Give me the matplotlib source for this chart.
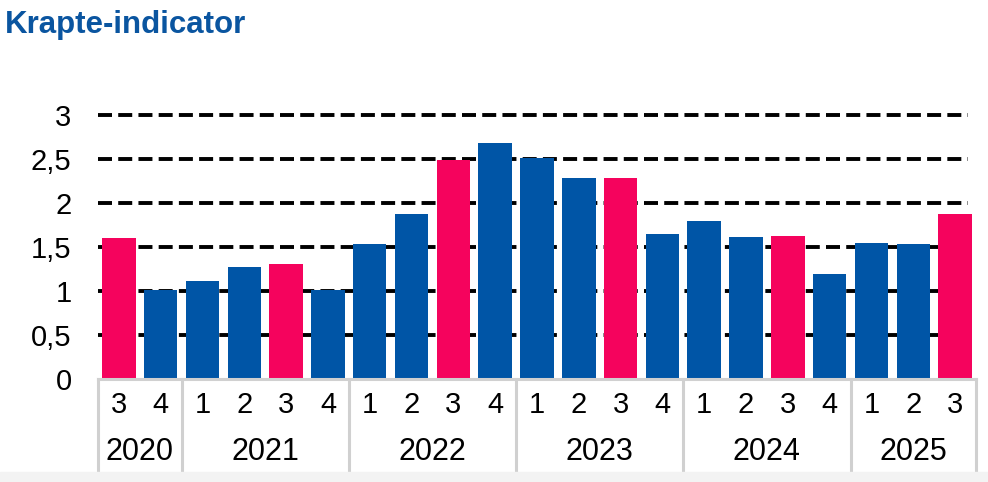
import matplotlib.pyplot as plt
import matplotlib.transforms as mtransforms
from matplotlib.patches import Rectangle

plt.rcParams['font.family'] = ['Liberation Sans', 'DejaVu Sans']

# data
years = ["2020", "2021", "2022", "2023", "2024", "2025"]
quarters = [3, 4, 1, 2, 3, 4, 1, 2, 3, 4, 1, 2, 3, 4, 1, 2, 3, 4, 1, 2, 3]
quarters_per_year = [2, 4, 4, 4, 4, 3]
values = [1.60, 1.01, 1.11, 1.27, 1.31, 1.01, 1.53, 1.87, 2.49, 2.68,
          2.51, 2.28, 2.28, 1.65, 1.79, 1.61, 1.63, 1.19, 1.55, 1.53, 1.88]
yticks = [0, 0.5, 1, 1.5, 2, 2.5, 3]
ytick_labels = ["0", "0,5", "1", "1,5", "2", "2,5", "3"]

BLUE = "#0055A6"
PINK = "#F5035D"
GREY = "#D0D0D0"

fig = plt.figure(figsize=(9.88, 4.82), dpi=100)
ax = fig.add_axes([0.0992, 0.2137, 0.8886, 0.5477])

x = list(range(len(values)))
colors = [PINK if q == 3 else BLUE for q in quarters]
ax.bar(x, values, width=0.8, color=colors, zorder=3)

ax.set_xlim(-0.5, len(values) - 0.5)
ax.set_ylim(0, 3)
ax.set_yticks(yticks)
ax.set_yticklabels(ytick_labels, fontsize=21)
ax.tick_params(axis='y', length=0, pad=19)
ax.set_xticks([])
for s in ax.spines.values():
    s.set_visible(False)

# dashed grid lines
for t in yticks[1:]:
    ax.plot([-0.5, len(values) - 0.7], [t, t], color="black", lw=2.8,
            linestyle=(0, (3.6, 1.6)), zorder=1, clip_on=False)

# category axis: base line, group separators, labels
trans = mtransforms.blended_transform_factory(ax.transData, ax.transAxes)
ax.plot([-0.5, len(values) - 0.5], [0, 0], transform=trans, color=GREY,
        lw=2.2, clip_on=False, zorder=4)

start = -0.5
for year, n in zip(years, quarters_per_year):
    ax.plot([start, start], [0, -0.352], transform=trans, color=GREY,
            lw=2.2, clip_on=False)
    ax.text(start + n / 2, -0.277, year, transform=trans, ha="center",
            va="center", fontsize=22)
    start += n
ax.plot([start, start], [0, -0.352], transform=trans, color=GREY,
        lw=2.2, clip_on=False)

for xi, q in zip(x, quarters):
    ax.text(xi, -0.1, str(q), transform=trans, ha="center", va="center",
            fontsize=21)

# light band at the bottom
fig.patches.append(Rectangle((0, 0), 1, 10 / 482, transform=fig.transFigure,
                             color="#F3F3F3", zorder=0))

fig.text(0.005, 0.948, "Krapte-indicator", fontsize=22.5, fontweight="bold",
         color="#0A55A0", ha="left", va="center")

fig.savefig("out.png", dpi=100)
